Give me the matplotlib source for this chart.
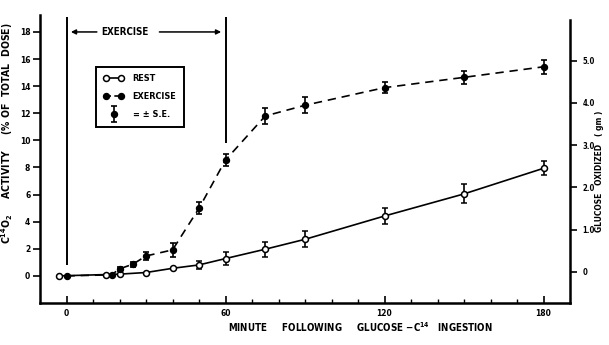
import matplotlib
matplotlib.use('Agg')
import matplotlib.pyplot as plt
import numpy as np
from matplotlib.legend_handler import HandlerErrorbar
from matplotlib.lines import Line2D

plt.rcParams['font.family'] = ['Liberation Sans Narrow', 'DejaVu Sans']
plt.rcParams['font.weight'] = 'bold'
plt.rcParams['font.stretch'] = 'condensed'
plt.rcParams['mathtext.default'] = 'bf'

# minutes after glucose-C14 ingestion
rest_t = [-3, 15, 20, 30, 40, 50, 60, 75, 90, 120, 150, 180]
rest_y = [0.0, 0.1, 0.13, 0.25, 0.56, 0.81, 1.28, 1.97, 2.7, 4.42, 6.05, 7.94]
rest_se = [0, 0, 0, 0, 0, 0.3, 0.45, 0.55, 0.6, 0.6, 0.7, 0.53]

ex_t = [0, 17, 20, 25, 30, 40, 50, 60, 75, 90, 120, 150, 180]
ex_y = [0.0, 0.08, 0.52, 0.86, 1.47, 1.92, 4.99, 8.55, 11.8, 12.59, 13.89, 14.65, 15.43]
ex_se = [0, 0, 0.15, 0.2, 0.33, 0.5, 0.45, 0.45, 0.6, 0.6, 0.43, 0.47, 0.5]

fig = plt.figure(figsize=(6.09, 3.45), dpi=100)
ax = fig.add_axes([0.0657, 0.1217, 0.8703, 0.8348])

ax.errorbar(rest_t, rest_y, yerr=rest_se, fmt='-o', color='black', mfc='white',
            mec='black', ms=4.3, lw=1.2, mew=1.1, elinewidth=1.2, capsize=2, capthick=1.2,
            zorder=3)
ax.errorbar(ex_t, ex_y, yerr=ex_se, fmt='o', ls=(0, (5, 3.5)), color='black', ms=4.3,
            lw=1.2, elinewidth=1.2, capsize=2, capthick=1.2, zorder=4)

# exercise period markers
ax.vlines([0, 60], [0.8, 9.8], [19.1, 19.1], color='black', lw=1.4)
arr = dict(arrowstyle='-|>', color='black', lw=1.1, mutation_scale=7)
ax.annotate('', xy=(0.6, 18), xytext=(12.5, 18), arrowprops=arr)
ax.annotate('', xy=(59.4, 18), xytext=(34, 18), arrowprops=arr)
ax.text(22, 18, 'EXERCISE', ha='center', va='center', fontsize=7)

ax.set_xlim(-10, 190)
ax.set_ylim(-2, 19.25)
ax.set_xticks([0, 60, 120, 180])
ax.set_xticks(np.arange(0, 190, 10), minor=True)
ax.set_yticks(np.arange(0, 19, 2))
ax.tick_params(axis='x', direction='in', length=5, width=1.2, labelsize=6, pad=4)
ax.tick_params(axis='x', which='minor', direction='in', length=3, width=1.0)
ax.tick_params(axis='y', direction='out', length=5, width=1.2, labelsize=6, pad=2)
for s in ['left', 'bottom']:
    ax.spines[s].set_linewidth(1.8)
ax.spines['top'].set_visible(False)
ax.spines['right'].set_visible(False)

ax2 = ax.twinx()
ax2.set_ylim((-2 - 0.29) / 3.118, (19.25 - 0.29) / 3.118)
ax2.set_yticks([0, 1, 2, 3, 4, 5])
ax2.set_yticklabels(['0', '1.0', '2.0', '3.0', '4.0', '5.0'])
ax2.tick_params(axis='y', direction='out', length=5, width=1.2, labelsize=5.5, pad=4)
ax2.spines['right'].set_linewidth(1.8)
ax2.spines['right'].set_bounds(-0.735, 5.97)
for s in ['top', 'left', 'bottom']:
    ax2.spines[s].set_visible(False)

# legend
h_rest = Line2D([], [], color='black', marker='o', mfc='white', ms=4.3, lw=1.2, mew=1.1)
h_ex = Line2D([], [], color='black', marker='o', ms=4.3, lw=1.2, ls=(0, (3, 2)))
h_se = ax.errorbar([np.nan], [np.nan], yerr=[np.nan], fmt='o', color='black', ms=4.3,
                   elinewidth=1.2, capsize=2, capthick=1.2)
leg = ax.legend([h_rest, h_ex, h_se], ['REST', 'EXERCISE', '= \u00b1 S.E.'],
                loc='upper left', bbox_to_anchor=(0.098, 0.835), numpoints=2,
                handlelength=2.2, handletextpad=1.0, labelspacing=1.0, fontsize=6.5,
                fancybox=False, edgecolor='black', framealpha=1, borderpad=0.8,
                handler_map={h_se: HandlerErrorbar(numpoints=1, yerr_size=0.9)})
leg.get_frame().set_linewidth(1.4)

fig.text(360 / 609, 1 - 327 / 345, r'MINUTE     FOLLOWING     GLUCOSE $-$C$^{14}$   INGESTION',
         ha='center', va='center', fontsize=7)
fig.text(7 / 609, 1 - 244 / 345, r'C$^{14}$O$_2$     ACTIVITY     (% OF  TOTAL  DOSE)',
         rotation=90, ha='center', va='bottom', fontsize=7.5)
fig.text(599 / 609, 1 - 171 / 345, 'GLUCOSE   OXIDIZED   ( gm )', rotation=90,
         ha='center', va='center', fontsize=6)

fig.savefig('out.png', dpi=100)
